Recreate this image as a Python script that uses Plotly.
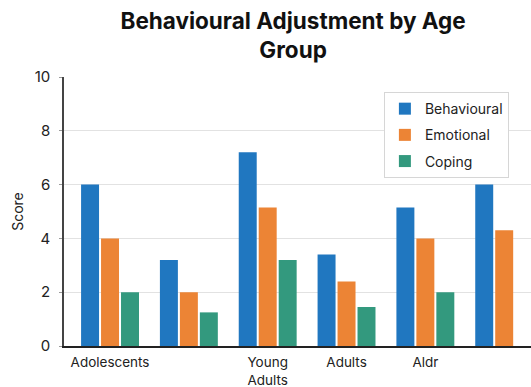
import plotly.graph_objects as go

categories = ["Adolescents", "Group 2", "Young Adults", "Adults", "Aldr", "Group 6"]
tick_labels = ["Adolescents", "", "Young<br>Adults", "Adults", "Aldr", ""]
behavioural = [6.0, 3.2, 7.2, 3.4, 5.15, 6.0]
emotional = [4.0, 2.0, 5.15, 2.4, 4.0, 4.3]
coping = [2.0, 1.25, 3.2, 1.45, 2.0]  # last group has no visible Coping bar

series = [
    ("Behavioural", behavioural, "#2077c0"),
    ("Emotional", emotional, "#ec8435"),
    ("Coping", coping, "#33997e"),
]

fig = go.Figure()
for name, vals, col in series:
    fig.add_trace(go.Bar(x=categories[:len(vals)], y=vals, name=name,
                         marker_color=col, marker_line_width=0,
                         legendgroup=name, hoverinfo="skip"))

font = "Inter, Helvetica, Arial, sans-serif"
fig.update_layout(
    width=531, height=387,
    margin=dict(l=64, r=0, t=77, b=41),
    paper_bgcolor="white", plot_bgcolor="white",
    barmode="group", bargap=0.24, bargroupgap=0.1,
    font=dict(family=font, size=13, color="#222"),
    title=dict(text="<b>Behavioural Adjustment by Age<br>Group</b>",
               x=0.552, xanchor="center", y=0.925, yanchor="top",
               font=dict(family=font, size=22.5, color="#111")),
    legend=dict(x=0.685, y=0.944, xanchor="left", yanchor="top",
                bgcolor="white", bordercolor="#d6d6d6", borderwidth=1,
                font=dict(family=font, size=14, color="#222"),
                itemwidth=30, tracegroupgap=5),
    xaxis=dict(range=[-0.584, 5.34], categoryorder="array", categoryarray=categories,
               tickvals=categories, ticktext=tick_labels,
               showline=True, linecolor="#222", linewidth=2, showgrid=False,
               ticks="", tickfont=dict(size=13.5, color="#222"),
               ticklabelstandoff=3, automargin=False),
    yaxis=dict(range=[0, 10], dtick=2, showgrid=True, gridcolor="#e2e2e2",
               showline=True, linecolor="#444", linewidth=1.5,
               ticks="outside", ticklen=3, tickcolor="#999",
               tickfont=dict(size=15, color="#222"), ticklabelstandoff=6,
               title=dict(text="Score", font=dict(size=14, color="#222"), standoff=8),
               zeroline=False, automargin=False),
)

fig.write_html("out.html", config={"displayModeBar": False})
